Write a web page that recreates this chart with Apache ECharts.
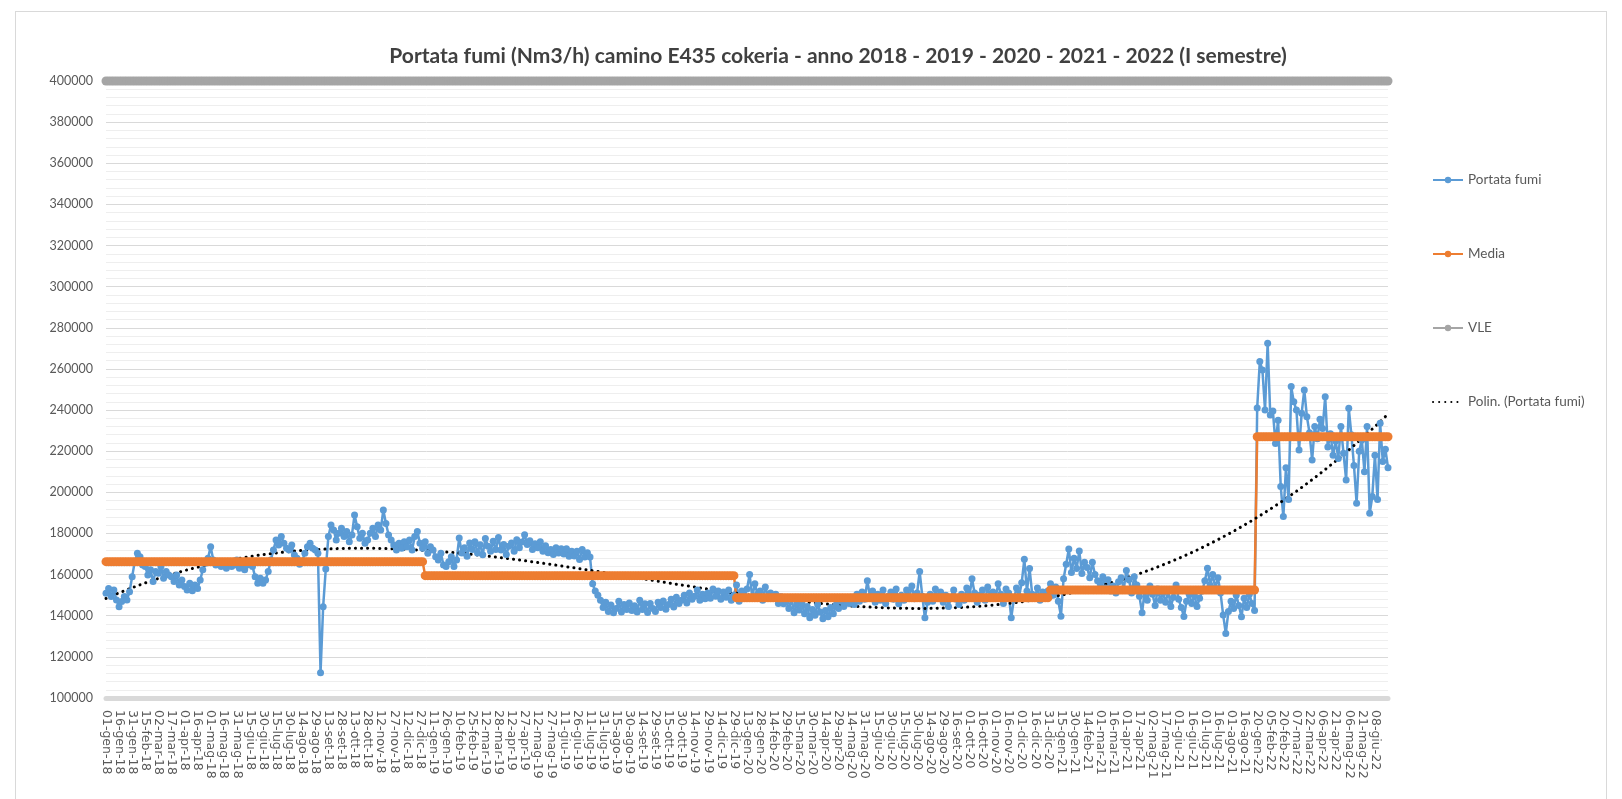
<!DOCTYPE html>
<html>
<head>
<meta charset="utf-8">
<title>Portata fumi camino E435</title>
<script src="https://cdn.jsdelivr.net/npm/echarts@6/dist/echarts.min.js"></script>
<style>
    body { margin: 0; background: #fff; }
    #cornice { position: absolute; left: 15px; top: 11px; width: 1590px; height: 800px; border: 1px solid #d9d9d9; }
    #grafico { position: absolute; left: 0; top: 0; width: 1622px; height: 799px; }
</style>
</head>
<body>
<div id="cornice"></div>
<div id="grafico"></div>
<script>
    // etichette dell'asse x (una ogni 15 giorni di dati)
    const etichette = [
        '01-gen-18', '16-gen-18', '31-gen-18', '15-feb-18', '02-mar-18', '17-mar-18', '01-apr-18', '16-apr-18',
        '01-mag-18', '16-mag-18', '31-mag-18', '15-giu-18', '30-giu-18', '15-lug-18', '30-lug-18', '14-ago-18',
        '29-ago-18', '13-set-18', '28-set-18', '13-ott-18', '28-ott-18', '12-nov-18', '27-nov-18', '12-dic-18',
        '27-dic-18', '11-gen-19', '26-gen-19', '10-feb-19', '25-feb-19', '12-mar-19', '28-mar-19', '12-apr-19',
        '27-apr-19', '12-mag-19', '27-mag-19', '11-giu-19', '26-giu-19', '11-lug-19', '31-lug-19', '15-ago-19',
        '30-ago-19', '14-set-19', '29-set-19', '15-ott-19', '30-ott-19', '14-nov-19', '29-nov-19', '14-dic-19',
        '29-dic-19', '13-gen-20', '28-gen-20', '14-feb-20', '29-feb-20', '15-mar-20', '30-mar-20', '14-apr-20',
        '29-apr-20', '14-mag-20', '31-mag-20', '15-giu-20', '30-giu-20', '15-lug-20', '30-lug-20', '14-ago-20',
        '29-ago-20', '16-set-20', '01-ott-20', '16-ott-20', '01-nov-20', '16-nov-20', '01-dic-20', '16-dic-20',
        '31-dic-20', '15-gen-21', '30-gen-21', '14-feb-21', '01-mar-21', '16-mar-21', '01-apr-21', '17-apr-21',
        '02-mag-21', '17-mag-21', '01-giu-21', '16-giu-21', '01-lug-21', '16-lug-21', '01-ago-21', '16-ago-21',
        '20-gen-22', '05-feb-22', '20-feb-22', '07-mar-22', '22-mar-22', '06-apr-22', '21-apr-22', '06-mag-22',
        '21-mag-22', '08-giu-22'
    ];

    // portata fumi (migliaia di Nm3/h), 5 letture ogni 15 giorni + ultima
    const portataK = [
        150.9, 153.3, 149.3, 152.5, 147.7,  144.4, 146.9, 149.3, 147.7, 151.7,  159.0, 166.3, 170.4, 168.7, 164.7,  163.9, 159.8, 162.3, 156.6, 161.5,
        160.6, 163.9, 158.2, 161.5, 159.8,  159.0, 156.6, 159.8, 155.0, 157.4,  154.2, 152.5, 155.8, 152.2, 155.0,  153.3, 157.4, 162.3, 165.5, 167.9,
        173.6, 167.1, 164.7, 166.3, 163.9,  165.5, 163.1, 166.3, 163.9, 164.7,  167.1, 163.1, 165.5, 162.3, 164.7,  166.3, 163.9, 159.0, 155.8, 158.2,
        155.8, 157.4, 161.5, 167.1, 172.0,  176.8, 174.4, 178.5, 175.2, 172.8,  172.0, 174.4, 169.5, 167.9, 165.0,  166.5, 170.4, 173.6, 175.2, 172.8,
        172.0, 170.4, 112.3, 144.4, 162.7,  178.5, 184.1, 181.7, 176.8, 180.1,  182.5, 178.5, 180.9, 176.0, 179.3,  189.0, 183.3, 177.7, 180.1, 175.2,
        176.8, 180.1, 182.5, 178.5, 184.1,  181.7, 191.4, 184.9, 179.3, 176.8,  174.4, 172.0, 175.2, 172.8, 176.0,  173.6, 176.8, 172.0, 178.5, 180.9,
        175.2, 172.8, 176.0, 170.4, 173.6,  172.0, 168.7, 167.1, 170.4, 164.7,  163.9, 166.3, 168.7, 163.9, 167.1,  177.8, 170.5, 173.0, 168.9, 175.4,
        172.2, 176.0, 170.5, 174.5, 169.7,  177.5, 173.8, 171.4, 176.2, 172.2,  178.0, 172.0, 174.6, 169.8, 173.8,  175.4, 171.3, 177.0, 173.0, 175.8,
        179.4, 174.6, 176.5, 172.2, 175.0,  173.0, 176.0, 171.4, 174.0, 170.6,  172.2, 169.8, 173.0, 170.5, 172.6,  170.0, 172.6, 168.9, 171.4, 169.0,
        171.4, 167.3, 172.2, 168.5, 170.6,  168.5, 155.5, 152.0, 150.0, 147.5,  144.0, 146.5, 142.0, 145.2, 141.5,  143.5, 147.0, 141.8, 145.5, 143.0,
        146.2, 142.5, 144.8, 141.8, 147.5,  143.0, 145.8, 141.6, 146.0, 143.5,  142.0, 146.5, 144.0, 147.2, 143.2,  145.5, 148.0, 144.2, 149.0, 146.0,
        147.5, 150.0, 146.2, 151.0, 148.0,  149.5, 152.5, 147.5, 150.5, 148.2,  151.0, 148.5, 153.0, 149.5, 152.0,  148.0, 151.5, 149.0, 152.5, 147.5,
        150.0, 155.0, 147.0, 152.0, 149.5,  153.0, 160.0, 149.0, 155.5, 150.5,  152.0, 147.5, 154.0, 149.5, 151.0,  148.5, 150.5, 146.0, 149.2, 145.8,
        147.0, 143.5, 148.0, 141.5, 145.5,  142.8, 146.0, 141.0, 144.5, 139.0,  143.0, 140.2, 145.5, 141.8, 138.5,  142.5, 139.5, 144.0, 141.0, 145.2,
        143.5, 147.0, 144.5, 148.5, 146.0,  149.0, 145.5, 150.5, 147.0, 151.5,  148.0, 157.0, 149.5, 152.0, 146.5,  150.5, 147.5, 152.5, 146.0, 149.5,
        151.5, 148.0, 153.0, 145.8, 150.0,  147.5, 152.5, 149.0, 154.5, 148.2,  151.0, 161.5, 149.5, 139.0, 146.5,  150.5, 147.0, 153.0, 148.5, 151.5,
        146.5, 150.0, 144.5, 149.0, 152.5,  148.0, 145.5, 150.5, 147.5, 153.5,  149.5, 158.0, 151.0, 146.5, 150.0,  152.5, 147.5, 154.0, 149.0, 151.5,
        148.5, 155.5, 150.5, 146.0, 153.0,  151.0, 139.0, 148.0, 153.5, 149.5,  156.0, 167.5, 152.0, 163.0, 150.5,  149.0, 153.5, 147.5, 151.5, 148.5,
        152.0, 155.5, 150.0, 154.0, 147.0,  139.8, 158.0, 165.0, 172.5, 161.0,  168.0, 163.0, 171.5, 160.5, 166.0,  163.5, 158.5, 166.0, 160.0, 157.0,
        155.5, 159.0, 153.5, 157.5, 152.0,  154.5, 151.0, 156.5, 158.5, 153.0,  162.0, 157.5, 151.0, 159.0, 155.0,  149.5, 141.4, 152.0, 147.5, 154.5,
        150.5, 145.0, 153.0, 147.5, 151.0,  146.5, 152.0, 144.5, 149.0, 155.0,  148.0, 144.0, 139.6, 147.0, 150.5,  146.0, 150.0, 144.5, 148.5, 152.0,
        157.0, 163.1, 155.0, 160.0, 153.5,  158.5, 151.0, 140.3, 131.4, 142.0,  147.0, 143.5, 150.0, 145.0, 139.5,  148.5, 144.0, 150.5, 146.0, 142.5,
        241.0, 263.6, 259.5, 240.0, 272.5,  237.6, 239.5, 223.8, 235.0, 202.8,  188.2, 212.0, 196.5, 251.4, 244.0,  240.0, 220.6, 238.5, 249.8, 236.8,
        229.0, 215.7, 232.0, 226.0, 235.5,  231.0, 246.5, 222.0, 228.5, 218.0,  225.0, 216.5, 232.0, 219.0, 206.0,  240.9, 228.0, 213.0, 194.7, 220.0,
        225.5, 210.0, 232.0, 189.8, 198.0,  218.0, 196.5, 233.6, 215.0, 221.0,
        212.0
    ];

    // media annuale
    const anni = [2018, 2019, 2020, 2021, 2022];
    const mediaAnnua = [166300, 159500, 148700, 152500, 227000];

    // valore limite di emissione
    const VLE = 400000;

    const GRADO_POLIN = 4;

    const MESI = ['gen', 'feb', 'mar', 'apr', 'mag', 'giu', 'lug', 'ago', 'set', 'ott', 'nov', 'dic'];
    const GIORNO = 86400000;
    const FONT = "Lato, 'Liberation Sans', sans-serif";

    function leggiData(s) {
        let p = s.split('-');
        return new Date(Date.UTC(2000 + parseInt(p[2], 10), MESI.indexOf(p[1]), parseInt(p[0], 10)));
    }
    function scriviData(d) {
        return String(d.getUTCDate()).padStart(2, '0') + '-' + MESI[d.getUTCMonth()] + '-' + String(d.getUTCFullYear() % 100).padStart(2, '0');
    }

    // categorie: ogni etichetta + 4 letture intermedie a 3 giorni, poi l'ultima lettura
    let categorie = [];
    let date = [];
    etichette.forEach((e) => {
        let d0 = leggiData(e);
        for (let j = 0; j < 5; j++) {
            let d = new Date(d0.getTime() + j * 3 * GIORNO);
            date.push(d);
            categorie.push(scriviData(d));
        }
    });
    let dUltima = new Date(leggiData(etichette[etichette.length - 1]).getTime() + 15 * GIORNO);
    date.push(dUltima);
    categorie.push(scriviData(dUltima));

    const portata = portataK.map((v) => Math.round(v * 1000));
    const media = date.map((d) => mediaAnnua[anni.indexOf(d.getUTCFullYear())]);
    const vle = categorie.map(() => VLE);

    // linea di tendenza polinomiale (minimi quadrati, come Excel)
    function polin(ys, grado) {
        let n = ys.length;
        let m = grado + 1;
        let A = [];
        for (let r = 0; r < m; r++) A.push(new Array(m + 1).fill(0));
        for (let i = 0; i < n; i++) {
            let t = 2 * i / (n - 1) - 1;
            let pw = [1];
            for (let k = 1; k < 2 * m; k++) pw.push(pw[k - 1] * t);
            for (let r = 0; r < m; r++) {
                for (let c = 0; c < m; c++) A[r][c] += pw[r + c];
                A[r][m] += pw[r] * ys[i];
            }
        }
        for (let c = 0; c < m; c++) {
            let p = c;
            for (let r = c + 1; r < m; r++) if (Math.abs(A[r][c]) > Math.abs(A[p][c])) p = r;
            let tmp = A[c]; A[c] = A[p]; A[p] = tmp;
            for (let r = 0; r < m; r++) {
                if (r === c) continue;
                let f = A[r][c] / A[c][c];
                for (let k = c; k <= m; k++) A[r][k] -= f * A[c][k];
            }
        }
        let coef = A.map((row, r) => row[m] / row[r]);
        return ys.map((_, i) => {
            let t = 2 * i / (n - 1) - 1;
            let v = 0;
            for (let k = m - 1; k >= 0; k--) v = v * t + coef[k];
            return Math.round(v);
        });
    }
    const tendenza = polin(portata, GRADO_POLIN);

    const nEtichette = etichette.length * 5;

    let chart = echarts.init(document.getElementById('grafico'));
    chart.setOption({
        animation: false,
        title: {
            text: 'Portata fumi (Nm3/h) camino E435 cokeria - anno 2018 - 2019 - 2020 - 2021 - 2022 (I semestre)',
            left: 833,
            top: 41,
            textAlign: 'center',
            textStyle: {
                fontFamily: FONT,
                fontSize: 21,
                fontWeight: 'bold',
                color: '#404040'
            }
        },
        legend: {
            orient: 'vertical',
            left: 1427,
            top: 168,
            itemWidth: 30,
            itemHeight: 8,
            itemGap: 60,
            data: [
                'Portata fumi',
                'Media',
                'VLE',
                { name: 'Polin. (Portata fumi)', itemStyle: { opacity: 0 } }
            ],
            textStyle: {
                fontFamily: FONT,
                fontSize: 13.5,
                color: '#595959'
            }
        },
        grid: {
            left: 106,
            right: 234,
            top: 81,
            bottom: 101,
            containLabel: false
        },
        xAxis: {
            type: 'category',
            data: categorie,
            boundaryGap: false,
            axisLine: { show: true, lineStyle: { color: '#d9d9d9', width: 5 } },
            axisTick: { show: false },
            splitLine: { show: false },
            axisLabel: {
                rotate: -90,
                margin: 12,
                fontFamily: 'DejaVu Sans',
                fontSize: 12.5,
                color: '#595959',
                interval: (i) => i % 5 === 0 && i < nEtichette
            }
        },
        yAxis: {
            type: 'value',
            min: 100000,
            max: 400000,
            interval: 20000,
            axisLine: { show: false },
            axisTick: { show: false },
            axisLabel: {
                margin: 13,
                fontFamily: FONT,
                fontSize: 12.5,
                color: '#595959',
                formatter: (v) => String(v)
            },
            splitLine: { lineStyle: { color: '#d9d9d9' } },
            minorTick: { show: false, splitNumber: 5 },
            minorSplitLine: { show: true, lineStyle: { color: '#eeeeee' } }
        },
        series: [
            {
                name: 'Portata fumi',
                type: 'line',
                data: portata,
                symbol: 'circle',
                symbolSize: 7,
                showAllSymbol: true,
                clip: false,
                itemStyle: { color: '#5b9bd5' },
                lineStyle: { color: '#5b9bd5', width: 2.5 }
            },
            {
                name: 'Media',
                type: 'line',
                data: media,
                symbol: 'circle',
                symbolSize: 9,
                showAllSymbol: true,
                clip: false,
                itemStyle: { color: '#ed7d31' },
                lineStyle: { color: '#ed7d31', width: 2.5 }
            },
            {
                name: 'VLE',
                type: 'line',
                data: vle,
                symbol: 'circle',
                symbolSize: 9,
                showAllSymbol: true,
                clip: false,
                itemStyle: { color: '#a5a5a5' },
                lineStyle: { color: '#a5a5a5', width: 2.5 }
            },
            {
                name: 'Polin. (Portata fumi)',
                type: 'line',
                data: tendenza,
                symbol: 'none',
                clip: false,
                itemStyle: { color: '#000' },
                lineStyle: { color: '#000', width: 3, type: [0.1, 6], cap: 'round' }
            }
        ]
    });
</script>
</body>
</html>
